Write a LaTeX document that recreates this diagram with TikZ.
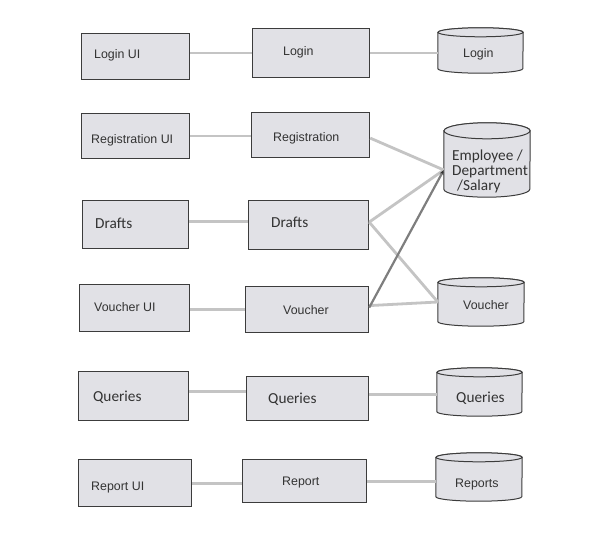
\documentclass[tikz,border=0pt]{standalone}
\usepackage{fontspec}
\setmainfont{Liberation Sans}
\newfontfamily\calibri{Carlito}
\usetikzlibrary{arrows.meta}
\definecolor{boxfill}{HTML}{E1E1E6}
\definecolor{boxline}{HTML}{3C3C3C}
\definecolor{linkgray}{HTML}{C4C4C4}
\definecolor{linkdark}{HTML}{7E7E7E}
\definecolor{txtgray}{HTML}{333333}
\tikzset{
  modbox/.style={draw=boxline, fill=boxfill, line width=1.2pt, inner sep=0pt, anchor=north west},
  dbstore/.style={inner sep=0pt},
  dbline/.style={draw=boxline, fill=boxfill, line width=1pt},
  lbl/.style={inner sep=0pt, anchor=mid west, yshift=-2pt, text=txtgray, font=\fontsize{12.4}{14}\selectfont},
  clbl/.style={inner sep=0pt, anchor=mid west, yshift=-2.5pt, text=txtgray, font=\calibri\fontsize{15.3}{15}\selectfont},
  link/.style={draw=linkgray, line width=2.8pt},
  darklink/.style={draw=linkdark, line width=2.2pt, -{Stealth[length=5pt, width=4pt, color=black!80]}}
}
\begin{document}
\begin{tikzpicture}[x=1pt, y=-1pt]
  \useasboundingbox (0,0) rectangle (604,540);
  \fill[white] (0,0) rectangle (604,540);
  \node[modbox, minimum width=108pt, minimum height=46pt] (loginui) at (81,33) {};
  \node[modbox, minimum width=108pt, minimum height=45pt] (regui) at (81,113) {};
  \node[modbox, minimum width=106pt, minimum height=48pt] (draftsui) at (82,200) {};
  \node[modbox, minimum width=110pt, minimum height=47pt] (voucherui) at (79,284) {};
  \node[modbox, minimum width=110pt, minimum height=49pt] (queriesui) at (78,371) {};
  \node[modbox, minimum width=113pt, minimum height=47pt] (reportui) at (78,459) {};
  \node[modbox, minimum width=117pt, minimum height=49pt] (login) at (252,28) {};
  \node[modbox, minimum width=118pt, minimum height=45pt] (reg) at (251,112) {};
  \node[modbox, minimum width=120pt, minimum height=49pt] (drafts) at (248,200) {};
  \node[modbox, minimum width=123pt, minimum height=46pt] (voucher) at (245,286) {};
  \node[modbox, minimum width=122pt, minimum height=44pt] (queries) at (246,376) {};
  \node[modbox, minimum width=124pt, minimum height=43pt] (report) at (242,459) {};
  \node[dbstore, minimum width=85pt, minimum height=45pt] (logindb) at (480.5,50.5) {};
  \node[dbstore, minimum width=86pt, minimum height=74pt] (empdb) at (487,160) {};
  \node[dbstore, minimum width=86pt, minimum height=48pt] (voucherdb) at (481,302) {};
  \node[dbstore, minimum width=85pt, minimum height=48pt] (queriesdb) at (479.5,392) {};
  \node[dbstore, minimum width=86pt, minimum height=48pt] (reportsdb) at (479,477) {};
  \foreach \n/\rx/\ry in {logindb/42.5/4.5, empdb/43/8, voucherdb/43/4.5, queriesdb/42.5/4.5, reportsdb/43/4.5} {
    \path[dbline] ([yshift=-\ry pt]\n.north west) -- ([yshift=\ry pt]\n.south west)
      arc[start angle=180, end angle=360, x radius=\rx pt, y radius=\ry pt]
      -- ([yshift=-\ry pt]\n.north east)
      arc[start angle=0, end angle=180, x radius=\rx pt, y radius=\ry pt] -- cycle;
    \draw[dbline] ([yshift=-\ry pt]\n.north) ellipse[x radius=\rx pt, y radius=\ry pt];
  }
  \coordinate (empin) at ([yshift=-10pt]empdb.west);
  \node[lbl] (loginuitxt) at (94,54) {Login UI};
  \node[lbl] (reguitxt) at (91,139) {Registration UI};
  \node[clbl] (draftsuitxt) at (95,223) {Drafts};
  \node[lbl] (voucheruitxt) at (94,307) {Voucher UI};
  \node[clbl] (queriesuitxt) at (93,396) {Queries};
  \node[lbl] (reportuitxt) at (91,486) {Report UI};
  \node[lbl] (logintxt) at (283,51) {Login};
  \node[lbl] (regtxt) at (273,137) {Registration};
  \node[clbl] (draftstxt) at (271,222) {Drafts};
  \node[lbl] (vouchertxt) at (283,310) {Voucher};
  \node[clbl] (queriestxt) at (268,398) {Queries};
  \node[lbl] (reporttxt) at (282,481) {Report};
  \node[lbl] (logindbtxt) at (463,53) {Login};
  \node[clbl, anchor=north west, align=left] (empdbtxt) at (452,147.5) {Employee /\\Department\\\hspace{5pt}/Salary};
  \node[lbl] (voucherdbtxt) at (463,305) {Voucher};
  \node[clbl] (queriesdbtxt) at (456,397) {Queries};
  \node[lbl] (reportsdbtxt) at (455,483) {Reports};
  \draw[link] (loginui.east |- login.west) -- (login.west);
  \draw[link] (login.east) -- (login.east -| logindb.west);
  \draw[link] (regui.east) -- (regui.east -| reg.west);
  \draw[link] ([yshift=-3pt]reg.east) -- (empin);
  \draw[link] ([yshift=3pt]draftsui.east) -- ([yshift=3pt]draftsui.east -| drafts.west);
  \draw[link] ([yshift=3pt]drafts.east) -- (empin);
  \draw[link] ([yshift=3pt]drafts.east) -- (voucherdb.west);
  \draw[link] (voucherui.east |- voucher.west) -- (voucher.west);
  \draw[link] ([yshift=4pt]voucher.east) -- (voucherdb.west);
  \draw[darklink] ([yshift=2pt]voucher.east) -- (empin);
  \draw[link] ([yshift=5pt]queriesui.east) -- ([yshift=5pt]queriesui.east -| queries.west);
  \draw[link] ([yshift=4pt]queries.east) -- ([yshift=4pt]queries.east -| queriesdb.west);
  \draw[link] (reportui.east) -- (reportui.east -| report.west);
  \draw[link] (report.east) -- (report.east -| reportsdb.west);
\end{tikzpicture}
\end{document}
